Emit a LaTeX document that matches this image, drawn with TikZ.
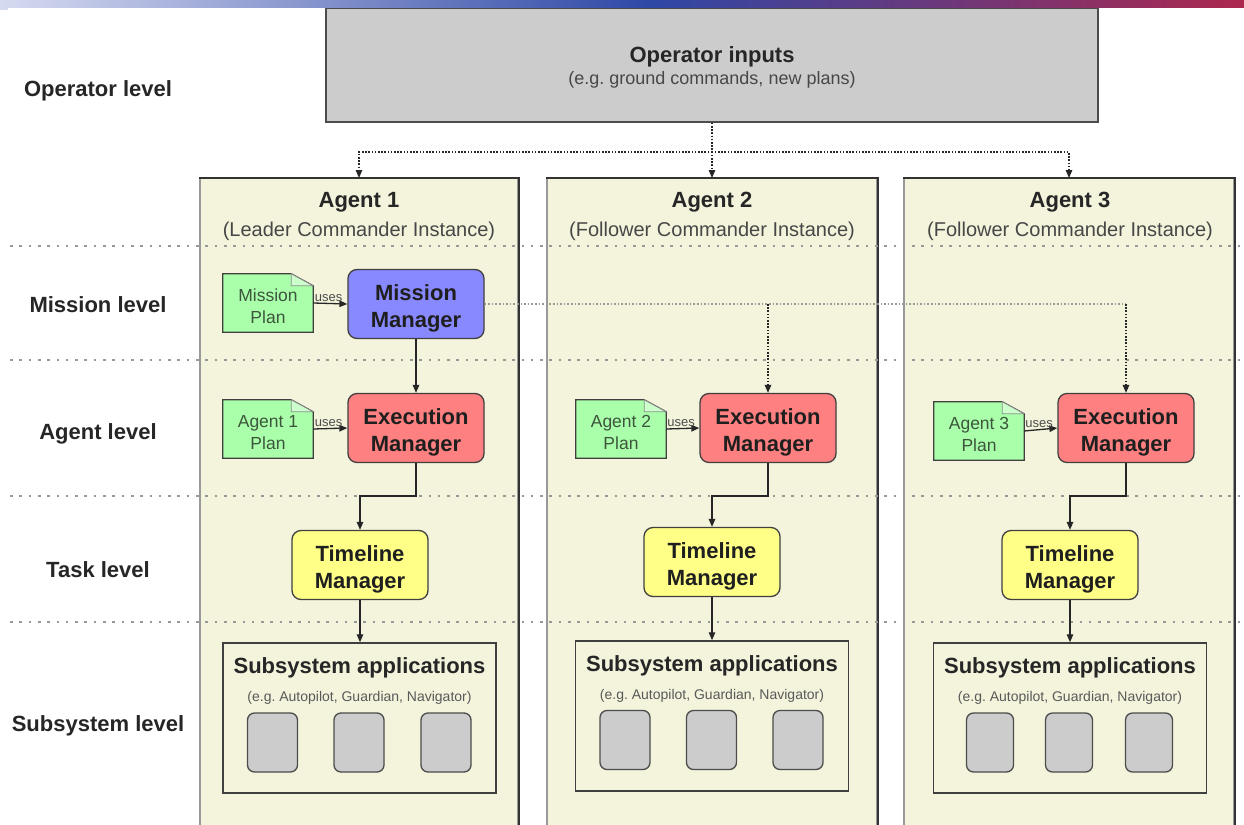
\documentclass[tikz,border=0pt]{standalone}
\usepackage{fontspec}
\setmainfont{Liberation Sans}
\usetikzlibrary{arrows.meta}
\frenchspacing
\definecolor{colbg}{RGB}{244,243,219}
\definecolor{opgray}{RGB}{204,204,204}
\definecolor{docgreen}{RGB}{170,255,170}
\definecolor{docfold}{RGB}{205,255,205}
\definecolor{mmblue}{RGB}{136,136,255}
\definecolor{emred}{RGB}{255,128,128}
\definecolor{tmyellow}{RGB}{255,255,136}
\definecolor{doctext}{RGB}{60,85,60}
\definecolor{gA}{RGB}{214,218,240}
\definecolor{gB}{RGB}{46,72,166}
\definecolor{gC}{RGB}{172,40,78}
\newcommand{\mgrtxt}[2]{\rule{0pt}{25pt}#1\\#2}
\tikzset{
  boldtxt/.style={font=\fontsize{22}{27}\selectfont\bfseries, text=black!85},
  subtxt/.style={font=\fontsize{20}{24}\selectfont, text=black!72},
  levellab/.style={font=\fontsize{22}{26}\selectfont\bfseries, text=black!85},
  colbox/.style={fill=colbg, draw=black!40, line width=1.3pt, minimum width=318pt, minimum height=680pt, anchor=north, inner sep=0pt},
  coledge/.style={draw=black!80, line width=1.8pt},
  opbox/.style={fill=opgray, draw=black!70, line width=1.5pt, minimum width=772pt, minimum height=114pt, inner sep=0pt},
  mgr/.style={draw=black!75, line width=1.3pt, rounded corners=9pt, minimum width=136pt, minimum height=69pt, align=center, font=\fontsize{22}{27}\selectfont\bfseries, text=black!88, inner sep=0pt},
  docbox/.style={minimum width=90pt, minimum height=58pt, inner sep=0pt},
  docline/.style={fill=docgreen, draw=black!75, line width=1.3pt},
  foldline/.style={fill=docfold, draw=black!45, line width=0.8pt},
  doctxt/.style={align=center, font=\fontsize{17.5}{22}\selectfont, text=doctext},
  usestxt/.style={font=\fontsize{13}{15}\selectfont, text=black!70, inner sep=1pt},
  subbox/.style={fill=colbg, draw=black!75, line width=1.5pt, minimum width=273pt, minimum height=150pt, inner sep=0pt},
  subtitle/.style={font=\fontsize{22}{27}\selectfont\bfseries, text=black!85},
  subsub/.style={font=\fontsize{14}{16}\selectfont, text=black!65},
  app/.style={fill=opgray, draw=black!70, line width=1.3pt, rounded corners=7pt, minimum width=50pt, minimum height=59pt, inner sep=0pt},
  arr/.style={-{Triangle[length=8pt,width=6.5pt]}, line width=1.3pt, draw=black!85},
  opar/.style={arr, dash pattern=on 1.6pt off 1.6pt},
  lvl/.style={line width=2.6pt, draw=black!40, dash pattern=on 2.6pt off 6.7pt},
  mmdot/.style={line width=1.2pt, draw=black!40, dash pattern=on 1.6pt off 2pt},
}
\begin{document}
\begin{tikzpicture}[x=1pt,y=-1pt]
\useasboundingbox (0,0) rectangle (1244,824);
\fill[white] (0,0) rectangle (1244,824);

% operator box
\node[opbox] (op) at (712,65) {};
\node[boldtxt] (opt) at (712,57) {Operator inputs};
\node[font=\fontsize{18}{21}\selectfont, text=black!72] (ops) at (712,80) {(e.g. ground commands, new plans)};

% top gradient bar
\shade[left color=gA, right color=gB] (0,0) rectangle (650,7.5);
\shade[left color=gB, right color=gC] (650,0) rectangle (1244.5,7.5);
\fill[gA] (0,7.5) rectangle (8,10);

% agent columns
\node[colbox] (a1) at (359,178) {};
\node[colbox, minimum width=330pt] (a2) at (712,178) {};
\node[colbox, minimum width=330pt] (a3) at (1069,178) {};
\foreach \a in {a1,a2,a3}{
  \draw[coledge] (\a.north west) -- (\a.north east) -- (\a.south east);
}

% level lines
\coordinate (L1) at (10,246);
\coordinate (L2) at (10,360);
\coordinate (L3) at (10,496);
\coordinate (L4) at (10,622);
\foreach \l in {L1,L2,L3,L4}{
  \draw[lvl] (\l) -- ++(1240,0);
}

% level labels
\node[levellab] (lop) at (98,91) {Operator level};
\node[levellab] (lmi) at (98,305) {Mission level};
\node[levellab] (lag) at (98,434) {Agent level};
\node[levellab] (lta) at (98,570) {Task level};
\node[levellab] (lsu) at (98,726) {Subsystem level};

% agent titles
\node[boldtxt] (a1t) at (359,202) {Agent 1};
\node[subtxt] (a1s) at (359,231) {(Leader Commander Instance)};
\node[boldtxt] (a2t) at (712,202) {Agent 2};
\node[subtxt] (a2s) at (712,231) {(Follower Commander Instance)};
\node[boldtxt] (a3t) at (1070,202) {Agent 3};
\node[subtxt] (a3s) at (1070,231) {(Follower Commander Instance)};

% operator arrows
\coordinate (bus) at (712,152);
\draw[opar] (op.south) -- (bus) -| (a1.north);
\draw[opar] (op.south) -- (bus) -- (a2.north);
\draw[opar] (op.south) -- (bus) -| (a3.north);

% documents
\foreach \d/\x/\y/\t in {d1/268/303/{Mission\\Plan}, d2/268/429/{Agent 1\\Plan}, d3/621/429/{Agent 2\\Plan}, d4/979/431/{Agent 3\\Plan}}{
  \node[docbox] (\d) at (\x,\y) {};
  \draw[docline] (\d.north west) -- ([xshift=-22pt]\d.north east) -- ([yshift=-12pt]\d.north east) -- (\d.south east) -- (\d.south west) -- cycle;
  \draw[foldline] ([xshift=-22pt]\d.north east) -- ([xshift=-22pt,yshift=-12pt]\d.north east) -- ([yshift=-12pt]\d.north east) -- cycle;
  \node[doctxt] (\d t) at ([yshift=-3.5pt]\d.center) {\t};
}

% managers
\node[mgr, fill=mmblue] (mm) at (416,304) {\mgrtxt{Mission}{Manager}};
\node[mgr, fill=emred] (em1) at (416,428) {\mgrtxt{Execution}{Manager}};
\node[mgr, fill=emred] (em2) at (768,428) {\mgrtxt{Execution}{Manager}};
\node[mgr, fill=emred] (em3) at (1126,428) {\mgrtxt{Execution}{Manager}};
\node[mgr, fill=tmyellow] (tm1) at (360,565) {\mgrtxt{Timeline}{Manager}};
\node[mgr, fill=tmyellow] (tm2) at (712,562) {\mgrtxt{Timeline}{Manager}};
\node[mgr, fill=tmyellow] (tm3) at (1070,565) {\mgrtxt{Timeline}{Manager}};

% subsystem boxes
\node[subbox] (s1) at (359.5,718) {};
\node[subbox] (s2) at (712,716) {};
\node[subbox] (s3) at (1070,718) {};
\foreach \s in {s1,s2,s3}{
  \node[subtitle] (\s t) at ([yshift=-26pt]\s.north) {Subsystem applications};
  \node[subsub] (\s u) at ([yshift=-56pt]\s.north) {(e.g. Autopilot, Guardian, Navigator)};
}
\node[app] (s1a) at (272.5,742.5) {};
\node[app] (s1b) at (359,742.5) {};
\node[app] (s1c) at (446,742.5) {};
\node[app] (s2a) at (625,740) {};
\node[app] (s2b) at (711.5,740) {};
\node[app] (s2c) at (798,740) {};
\node[app, minimum width=47pt] (s3a) at (990,742.5) {};
\node[app, minimum width=47pt] (s3b) at (1069,742.5) {};
\node[app, minimum width=47pt] (s3c) at (1149,742.5) {};

% uses arrows
\draw[arr] (d1.east) -- (mm.west) node[usestxt, pos=0.45, above] (u1) {uses};
\draw[arr] (d2.east) -- (em1.west) node[usestxt, pos=0.45, above] (u2) {uses};
\draw[arr] (d3.east) -- (em2.west) node[usestxt, pos=0.45, above] (u3) {uses};
\draw[arr] (d4.east) -- (em3.west) node[usestxt, pos=0.45, above] (u4) {uses};

% mission manager links
\draw[arr] (mm.south) -- (em1.north);
\draw[mmdot] (mm.east) -- (mm.east -| em3.north);
\draw[opar] (mm.east -| em2.north) -- (em2.north);
\draw[opar] (mm.east -| em3.north) -- (em3.north);

% execution to timeline
\draw[arr] (em1.south) -- (em1.south |- L3) -| (tm1.north);
\draw[arr] (em2.south) -- (em2.south |- L3) -| (tm2.north);
\draw[arr] (em3.south) -- (em3.south |- L3) -| (tm3.north);

% timeline to subsystems
\draw[arr] (tm1.south) -- (tm1.south |- s1.north);
\draw[arr] (tm2.south) -- (tm2.south |- s2.north);
\draw[arr] (tm3.south) -- (tm3.south |- s3.north);
\end{tikzpicture}
\end{document}
